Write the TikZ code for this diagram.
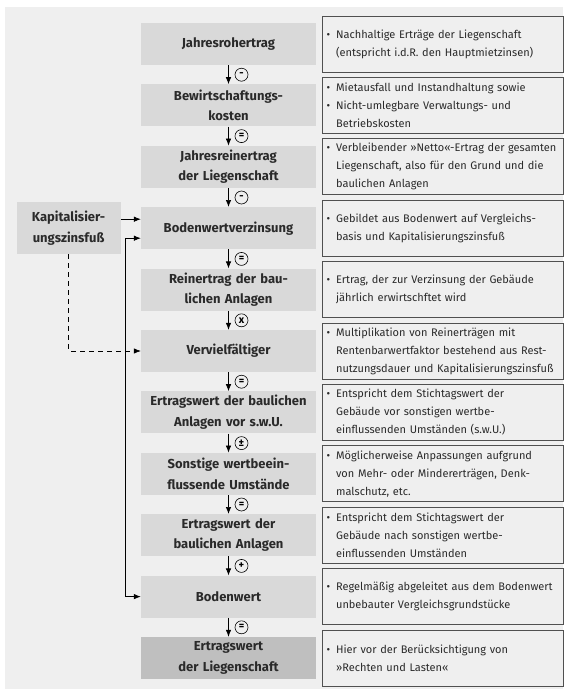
\documentclass[tikz,border=0pt]{standalone}
\usepackage{fontspec}
\setmainfont{Fira Sans}
\usetikzlibrary{positioning, arrows.meta}
\definecolor{bggray}{HTML}{EFEFEF}
\definecolor{boxgray}{HTML}{D9D9D9}
\definecolor{endgray}{HTML}{BFBFBF}
\definecolor{linegray}{HTML}{505050}
\definecolor{textgray}{HTML}{2A2A2A}
\newcommand{\bl}{\makebox[9.5pt][l]{\textbullet}}
\newcommand{\ind}{\hspace*{9.5pt}}
\begin{document}
\begin{tikzpicture}[x=1pt, y=1pt,
        node distance=19pt and 6pt,
        block/.style={rectangle, fill=boxgray, text=textgray, text width=171pt, align=center, minimum width=175pt, minimum height=42pt, inner xsep=2pt, inner ysep=1pt, font=\bfseries\fontsize{13}{20.5}\selectfont},
        note/.style={rectangle, draw=linegray, line width=0.8pt, fill=bggray, text=textgray, text width=233pt, align=left, minimum height=56pt, inner xsep=4pt, inner ysep=1pt, font=\fontsize{11}{18}\selectfont},
        op/.style={circle, draw=black, line width=0.6pt, fill=bggray, inner sep=0pt, minimum size=13pt, font=\bfseries\fontsize{10.5}{10.5}\selectfont, xshift=13pt},
        arrow/.style={-{Latex[length=7pt, width=5.5pt]}, line width=0.7pt}
    ]
        \useasboundingbox (0,0) rectangle (563,-689);
        \fill[bggray] (5,-7) rectangle (563,-689);

        % Nodes
        \node[block] (jro) at (228.5,-44) {Jahresrohertrag};
        \node[block, below=of jro] (bwk) {Bewirtschaftungs-\\kosten};
        \node[block, below=of bwk] (jre) {Jahresreinertrag\\der Liegenschaft};
        \node[block, below=of jre] (bwv) {Bodenwertverzinsung};
        \node[block, below=of bwv] (reb) {Reinertrag der bau-\\lichen Anlagen};
        \node[block, below=of reb] (vvf) {Vervielfältiger};
        \node[block, below=of vvf] (ewv) {Ertragswert der baulichen\\Anlagen vor s.w.U.};
        \node[block, below=of ewv] (swu) {Sonstige wertbeein-\\flussende Umstände};
        \node[block, below=of swu] (ewb) {Ertragswert der\\baulichen Anlagen};
        \node[block, below=of ewb] (bw) {Bodenwert};
        \node[block, below=of bw, fill=endgray] (ewl) {Ertragswert\\der Liegenschaft};

        \node[block, left=20pt of bwv, text width=100pt, minimum width=104pt, minimum height=52pt] (kap) {Kapitalisier-\\ungszinsfuß};

        % Notes
        \node[note, right=of jro] (jroN) {\bl Nachhaltige Erträge der Liegenschaft\\\ind (entspricht i.d.R. den Hauptmietzinsen)};
        \node[note, right=of bwk] (bwkN) {\bl Mietausfall und Instandhaltung sowie\\\bl Nicht-umlegbare Verwaltungs- und\\\ind Betriebskosten};
        \node[note, right=of jre] (jreN) {\bl Verbleibender »Netto«-Ertrag der gesamten\\\ind Liegenschaft, also für den Grund und die\\\ind baulichen Anlagen};
        \node[note, right=of bwv] (bwvN) {\bl Gebildet aus Bodenwert auf Vergleichs-\\\ind basis und Kapitalisierungszinsfuß};
        \node[note, right=of reb] (rebN) {\bl Ertrag, der zur Verzinsung der Gebäude\\\ind jährlich erwirtschftet wird};
        \node[note, right=of vvf] (vvfN) {\bl Multiplikation von Reinerträgen mit\\\ind Rentenbarwertfaktor bestehend aus Rest-\\\ind nutzungsdauer und Kapitalisierungszinsfuß};
        \node[note, right=of ewv] (ewvN) {\bl Entspricht dem Stichtagswert der\\\ind Gebäude vor sonstigen wertbe-\\\ind einflussenden Umständen (s.w.U.)};
        \node[note, right=of swu] (swuN) {\bl Möglicherweise Anpassungen aufgrund\\\ind von Mehr- oder Mindererträgen, Denk-\\\ind malschutz, etc.};
        \node[note, right=of ewb] (ewbN) {\bl Entspricht dem Stichtagswert der\\\ind Gebäude nach sonstigen wertbe-\\\ind einflussenden Umständen};
        \node[note, right=of bw] (bwN) {\bl Regelmäßig abgeleitet aus dem Bodenwert\\\ind unbebauter Vergleichsgrundstücke};
        \node[note, right=of ewl] (ewlN) {\bl Hier vor der Berücksichtigung von\\\ind »Rechten und Lasten«};

        % Paths
        \draw[arrow] (jro) -- node[op] {-} (bwk);
        \draw[arrow] (bwk) -- node[op] {=} (jre);
        \draw[arrow] (jre) -- node[op] {-} (bwv);
        \draw[arrow] (bwv) -- node[op] {=} (reb);
        \draw[arrow] (reb) -- node[op] {x} (vvf);
        \draw[arrow] (vvf) -- node[op] {=} (ewv);
        \draw[arrow] (ewv) -- node[op] {±} (swu);
        \draw[arrow] (swu) -- node[op] {=} (ewb);
        \draw[arrow] (ewb) -- node[op] {+} (bw);
        \draw[arrow] (bw) -- node[op] {=} (ewl);

        \draw[arrow] ([yshift=9pt]kap.east) -- ([yshift=9pt]kap.east -| bwv.west);
        \draw[arrow, dash pattern=on 5pt off 4pt] (kap.south) |- (vvf.west);
        \coordinate (bus) at ([xshift=-15pt]bw.west);
        \draw[{Latex[length=7pt, width=5.5pt]}-{Latex[length=7pt, width=5.5pt]}, line width=0.7pt] ([yshift=-10pt]bwv.west) -| (bus) -- (bw.west);
    \end{tikzpicture}
\end{document}
